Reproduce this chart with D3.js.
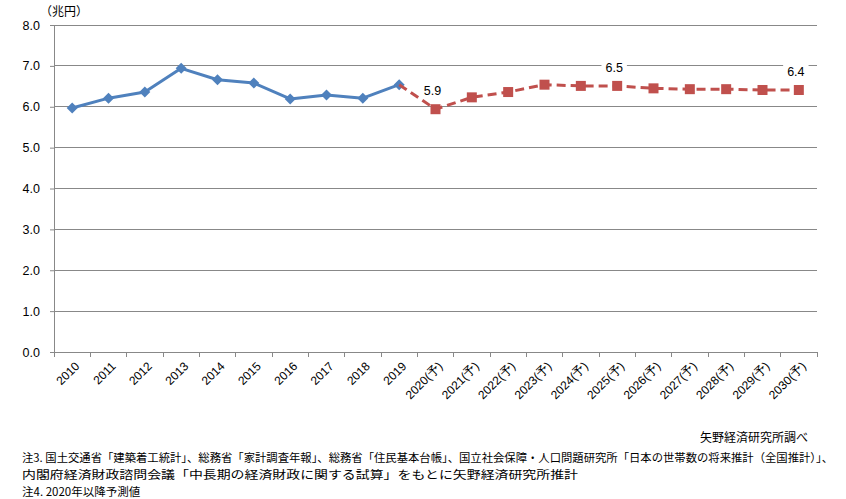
<!DOCTYPE html>
<html><head><meta charset="utf-8">
<script src="https://cdn.jsdelivr.net/npm/d3@7"></script>
<style>
body{margin:0;background:#fff;}
svg{display:block;}
.jp{font-family:"Noto Sans CJK JP","Noto Sans",sans-serif;}
.lat{font-family:"Liberation Sans",Arial,sans-serif;}
</style></head>
<body><svg id="c" width="846" height="499"></svg>
<script>
const categories = ["2010","2011","2012","2013","2014","2015","2016","2017","2018","2019",
  "2020(予)","2021(予)","2022(予)","2023(予)","2024(予)","2025(予)","2026(予)","2027(予)","2028(予)","2029(予)","2030(予)"];
const actualYears = ["2010","2011","2012","2013","2014","2015","2016","2017","2018","2019"];
const actualValues = [5.97,6.21,6.36,6.94,6.66,6.58,6.19,6.29,6.21,6.54];
const forecastCats = ["2020(予)","2021(予)","2022(予)","2023(予)","2024(予)","2025(予)","2026(予)","2027(予)","2028(予)","2029(予)","2030(予)"];
const forecastValues = [5.94,6.23,6.36,6.54,6.51,6.51,6.45,6.43,6.43,6.41,6.41];
const yTicks = [0,1,2,3,4,5,6,7,8];
const labelCats = ["2020(予)","2025(予)","2030(予)"];
const labelTexts = ["5.9","6.5","6.4"];
const unitLabel = "（兆円）";
const sourceText = "矢野経済研究所調べ";
const notes = [
  "注3. 国土交通省「建築着工統計」、総務省「家計調査年報」、総務省「住民基本台帳」、国立社会保障・人口問題研究所「日本の世帯数の将来推計（全国推計）」、",
  "内閣府経済財政諮問会議「中長期の経済財政に関する試算」をもとに矢野経済研究所推計",
  "注4. 2020年以降予測値"
];

const svg = d3.select("#c");
const x = d3.scaleBand().domain(categories).range([54,817]).padding(0);
const y = d3.scaleLinear().domain([0,8]).range([352,25]);
const cx = c => x(c) + x.bandwidth()/2;

// gridlines
svg.append("g").selectAll("line").data(yTicks.filter(d=>d>0)).join("line")
  .attr("x1",54).attr("x2",817).attr("y1",d=>y(d)).attr("y2",d=>y(d))
  .attr("stroke","#888").attr("stroke-width",1).attr("shape-rendering","crispEdges");

// y axis
const yAxis = svg.append("g").attr("transform","translate(54,0)")
  .call(d3.axisLeft(y).tickValues(yTicks).tickFormat(d3.format(".1f")).tickSize(4).tickPadding(10));
yAxis.select(".domain").attr("stroke","#888");
yAxis.selectAll(".tick line").attr("stroke","#888");
yAxis.selectAll("text").attr("class","lat").attr("font-size","12.5px").attr("fill","#000");

// x axis
const xAxis = svg.append("g").attr("transform","translate(0,352)")
  .call(d3.axisBottom(x).tickSize(0).tickFormat(""));
xAxis.select(".domain").attr("stroke","#888");
xAxis.selectAll(".tick").remove();
svg.append("g").selectAll("line").data(categories.concat(["end"])).join("line")
  .attr("x1",(d,i)=>54+i*x.bandwidth()).attr("x2",(d,i)=>54+i*x.bandwidth())
  .attr("y1",352).attr("y2",357).attr("stroke","#888").attr("shape-rendering","crispEdges");
svg.append("g").selectAll("text").data(categories).join("text")
  .attr("class","lat").attr("font-size","12px").attr("text-anchor","end")
  .attr("transform",d=>`translate(${cx(d)+2},${361}) rotate(-45)`)
  .attr("dy","0.7em").text(d=>d);

// unit label
svg.append("text").attr("class","jp").attr("x",40).attr("y",16).attr("font-size","12px").text(unitLabel);

// actual line
const line = d3.line().x(d=>cx(d[0])).y(d=>y(d[1]));
const act = actualYears.map((c,i)=>[c,actualValues[i]]);
svg.append("path").datum(act).attr("d",line).attr("fill","none")
  .attr("stroke","#4F81BD").attr("stroke-width",3).attr("stroke-linejoin","round");
svg.append("g").selectAll("path").data(act).join("path")
  .attr("d","M0,-5.5L5.5,0L0,5.5L-5.5,0Z")
  .attr("transform",d=>`translate(${cx(d[0])},${y(d[1])})`)
  .attr("fill","#4F81BD");

// forecast line (from last actual)
const fc = [[actualYears[actualYears.length-1],actualValues[actualValues.length-1]]]
  .concat(forecastCats.map((c,i)=>[c,forecastValues[i]]));
svg.append("path").datum(fc).attr("d",line).attr("fill","none")
  .attr("stroke","#C0504D").attr("stroke-width",3).attr("stroke-dasharray","9,5");
svg.append("g").selectAll("rect").data(fc.slice(1)).join("rect")
  .attr("x",d=>cx(d[0])-5).attr("y",d=>y(d[1])-5).attr("width",10).attr("height",10)
  .attr("fill","#C0504D");

// data labels
labelCats.forEach((c,i)=>{
  const v = forecastValues[forecastCats.indexOf(c)];
  const g = svg.append("g");
  const t = g.append("text").attr("class","lat").attr("font-size","12.5px")
    .attr("text-anchor","middle").attr("x",cx(c)-3).attr("y",y(v)-14).text(labelTexts[i]);
  const bb = t.node().getBBox();
  g.insert("rect","text").attr("x",bb.x-4).attr("y",bb.y).attr("width",bb.width+8).attr("height",bb.height).attr("fill","#fff");
});

// source & notes
svg.append("text").attr("class","jp").attr("x",808).attr("y",442).attr("text-anchor","end")
  .attr("font-size","12px").text(sourceText);
const nl = [[22,462,811],[22,479,556],[22,496,null]];
notes.forEach((n,i)=>{
  const t = svg.append("text").attr("class","jp").attr("x",nl[i][0]).attr("y",nl[i][1])
    .attr("font-size","11.5px").text(n);
  if(nl[i][2]) t.attr("textLength",nl[i][2]).attr("lengthAdjust","spacingAndGlyphs");
});
</script></body></html>
